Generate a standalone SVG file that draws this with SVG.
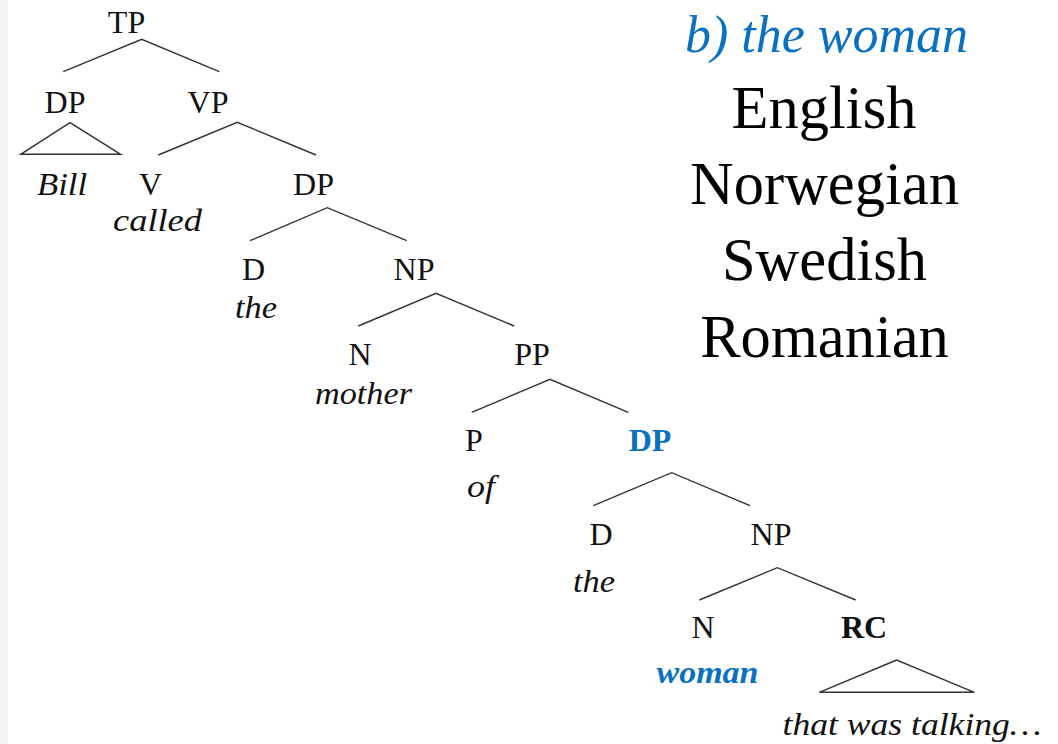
<svg xmlns="http://www.w3.org/2000/svg" width="1058" height="744" viewBox="0 0 1058 744">
<style>
.c{font-family:"Liberation Serif","Times New Roman",serif;font-size:32px;fill:#111;text-anchor:middle}
.w{font-family:"Liberation Serif","Times New Roman",serif;font-size:32px;font-style:italic;fill:#111;text-anchor:middle}
.b{font-weight:bold}
.blue{fill:#0a70c0}
.lang{font-family:"Liberation Serif","Times New Roman",serif;font-size:60.5px;fill:#000;text-anchor:middle}
.title{font-family:"Liberation Serif","Times New Roman",serif;font-size:52px;font-style:italic;fill:#0a70c0;text-anchor:middle}
.e{stroke:#333;stroke-width:1.4;fill:none}
</style>
<rect width="1058" height="744" fill="#fff"/>
<rect width="8" height="744" fill="#f3f3f3"/>
<g id="connectors">
<polyline class="e" points="63.3,71.7 141.7,39.3 219.3,71.7"/>
<polygon class="e" points="70,122.7 20.7,154.3 120.7,154.3"/>
<polyline class="e" points="158.3,155 237.3,122.3 316,155"/>
<polyline class="e" points="250,240.7 327.3,207.7 406.7,240.7"/>
<polyline class="e" points="358.3,326 436,293.3 514.3,326"/>
<polyline class="e" points="471.7,412.3 550,379.3 628.3,412.3"/>
<polyline class="e" points="593.3,505.7 671.7,472.7 750,505.7"/>
<polyline class="e" points="699.3,600 777.3,567.7 855.7,600"/>
<polygon class="e" points="896.7,660 819.3,692.3 974.3,692.3"/>
</g>
<g id="n-tp"><text class="c" x="126.5" y="33">TP</text></g>
<g id="n-dp1"><text class="c" x="65" y="113">DP</text><text class="w" x="62" y="195" textLength="50" lengthAdjust="spacingAndGlyphs">Bill</text></g>
<g id="n-vp"><text class="c" x="208" y="113">VP</text></g>
<g id="n-v"><text class="c" x="150.5" y="195">V</text><text class="w" x="157.5" y="231" textLength="89" lengthAdjust="spacingAndGlyphs">called</text></g>
<g id="n-dp2"><text class="c" x="313.5" y="195">DP</text></g>
<g id="n-d1"><text class="c" x="253.5" y="279.5">D</text><text class="w" x="256" y="318" textLength="42" lengthAdjust="spacingAndGlyphs">the</text></g>
<g id="n-np1"><text class="c" x="414" y="279.5">NP</text></g>
<g id="n-n1"><text class="c" x="360" y="365">N</text><text class="w" x="363.5" y="404" textLength="97" lengthAdjust="spacingAndGlyphs">mother</text></g>
<g id="n-pp"><text class="c" x="532" y="365">PP</text></g>
<g id="n-p"><text class="c" x="474" y="450.7">P</text><text class="w" x="481" y="497" textLength="28" lengthAdjust="spacingAndGlyphs">of</text></g>
<g id="n-dp3"><text class="c b blue" x="650" y="450.7">DP</text></g>
<g id="n-d2"><text class="c" x="601" y="545">D</text><text class="w" x="594" y="591.7" textLength="42" lengthAdjust="spacingAndGlyphs">the</text></g>
<g id="n-np2"><text class="c" x="771" y="545">NP</text></g>
<g id="n-n2"><text class="c" x="703" y="638.3">N</text><text class="w b blue" x="707.5" y="683.3" textLength="102" lengthAdjust="spacingAndGlyphs">woman</text></g>
<g id="n-rc"><text class="c b" x="864" y="638.3">RC</text><text class="w" x="912" y="735" textLength="259" lengthAdjust="spacingAndGlyphs">that was talking…</text></g>
<g id="legend">
<text class="title" x="826.5" y="51.7" textLength="283" lengthAdjust="spacingAndGlyphs">b) the woman</text>
<text class="lang" x="824" y="128.3">English</text>
<text class="lang" x="824.5" y="204">Norwegian</text>
<text class="lang" x="824.5" y="280">Swedish</text>
<text class="lang" x="824.5" y="356.7">Romanian</text>
</g>
</svg>
